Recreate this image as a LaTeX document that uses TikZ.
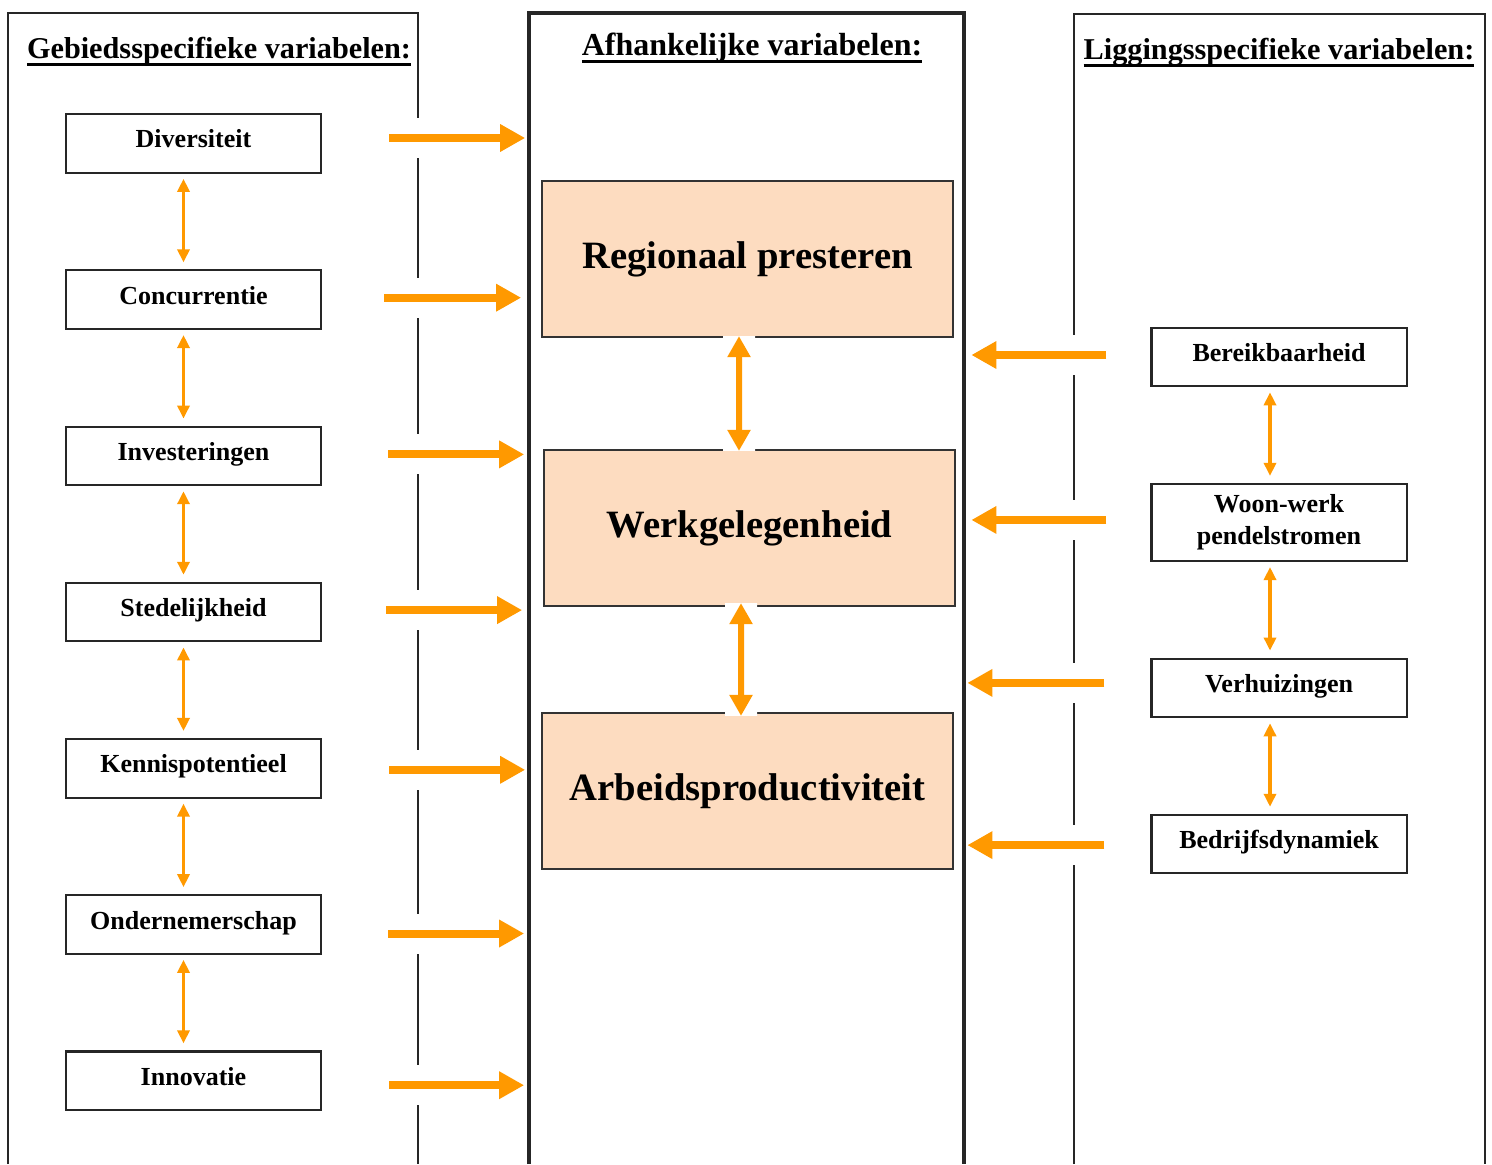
\documentclass[tikz,border=0pt]{standalone}
\usepackage{fontspec}
\setmainfont{Liberation Serif}
\usetikzlibrary{positioning,arrows.meta}
\definecolor{arroworange}{HTML}{FF9900}
\definecolor{peach}{HTML}{FDDCC0}
\newcommand\varheading[1]{\setbox0\hbox{#1}\rlap{\copy0}\rule[-1.9pt]{\wd0}{0.8pt}}

\begin{document}
\begin{tikzpicture}[
     x = 0.01cm, y = -0.01cm,
     node distance = 0.955cm,
     panel/.style = {draw = black!85, line width = 0.6pt},
     heading/.style = {font = \fontsize{8.6}{10}\selectfont\bfseries, anchor = base},
     var/.style = {draw = black!85, line width = 0.6pt, minimum width = 2.55cm,
                   minimum height = 0.585cm, inner sep = 1pt,
                   text height = 0.16cm, text depth = 0.07cm,
                   font = \fontsize{7.4}{9.1}\selectfont\bfseries},
     result/.style = {draw = black!80, line width = 0.6pt, fill = peach,
                      minimum width = 4.11cm, minimum height = 1.56cm,
                      font = \fontsize{11}{13}\selectfont\bfseries},
     link/.style = {arroworange, line width = 1.1pt,
                    {Triangle[width=0.12cm,length=0.13cm]}-{Triangle[width=0.12cm,length=0.13cm]},
                    shorten <= 0.05cm, shorten >= 0.07cm},
     feed/.style = {arroworange, line width = 0.08cm,
                    -{Triangle[width=0.26cm,length=0.25cm]},
                    preaction = {draw = white, line width = 0.4cm, -}},
     mutual/.style = {arroworange, line width = 0.06cm,
                      {Triangle[width=0.22cm,length=0.21cm]}-{Triangle[width=0.22cm,length=0.21cm]},
                      preaction = {draw = white, line width = 0.32cm, -}}
    ]

    \useasboundingbox (0,0) rectangle (1492,1164);

    % panels
    \draw[panel] (8,1164) -- (8,13) -- (418,13) -- (418,1164);
    \draw[panel, line width = 1pt] (529,1164) -- (529,13) -- (964,13) -- (964,1164);
    \draw[panel] (1074,1164) -- (1074,14) -- (1485,14) -- (1485,1164);

    \node[heading] (gebied) at (219,59) {\varheading{Gebiedsspecifieke variabelen:}};
    \node[heading, font = \fontsize{9.1}{10}\selectfont\bfseries] (afhankelijk) at (752,56) {\varheading{Afhankelijke variabelen:}};
    \node[heading] (ligging) at (1279,60) {\varheading{Liggingsspecifieke variabelen:}};

    \node[var] (Diversiteit) at (193.5,143.5) {Diversiteit};
    \node[var, below = of Diversiteit] (Concurrentie) {Concurrentie};
    \node[var, below = of Concurrentie] (Investeringen) {Investeringen};
    \node[var, below = of Investeringen] (Stedelijkheid) {Stedelijkheid};
    \node[var, below = of Stedelijkheid] (Kennis) {Kennispotentieel};
    \node[var, below = of Kennis] (Ondernemer) {Ondernemerschap};
    \node[var, below = of Ondernemer] (Innovatie) {Innovatie};

    \node[result] (Regionaal) at (747.5,259) {Regionaal presteren};
    \node[result] (Werk) at (749.5,528) {Werkgelegenheid};
    \node[result] (Arbeid) at (747.5,791) {Arbeidsproductiviteit};

    \node[var] (Bereik) at (1279,357) {Bereikbaarheid};
    \node[var, below = of Bereik, align = center, text height =, text depth =,
          minimum height = 0.77cm] (Woon) {Woon-werk\\pendelstromen};
    \node[var, below = of Woon] (Verhuizing) {Verhuizingen};
    \node[var, below = of Verhuizing] (Bedrijf) {Bedrijfsdynamiek};

    \draw[link] ([xshift=-0.1cm]Diversiteit.south) -- ([xshift=-0.1cm]Concurrentie.north);
    \draw[link] ([xshift=-0.1cm]Concurrentie.south) -- ([xshift=-0.1cm]Investeringen.north);
    \draw[link] ([xshift=-0.1cm]Investeringen.south) -- ([xshift=-0.1cm]Stedelijkheid.north);
    \draw[link] ([xshift=-0.1cm]Stedelijkheid.south) -- ([xshift=-0.1cm]Kennis.north);
    \draw[link] ([xshift=-0.1cm]Kennis.south) -- ([xshift=-0.1cm]Ondernemer.north);
    \draw[link] ([xshift=-0.1cm]Ondernemer.south) -- ([xshift=-0.1cm]Innovatie.north);

    \draw[link] ([xshift=-0.09cm]Bereik.south) -- ([xshift=-0.09cm]Woon.north);
    \draw[link] ([xshift=-0.09cm]Woon.south) -- ([xshift=-0.09cm]Verhuizing.north);
    \draw[link] ([xshift=-0.09cm]Verhuizing.south) -- ([xshift=-0.09cm]Bedrijf.north);

    \draw[feed] ([xshift=0.67cm,yshift=0.055cm]Diversiteit.east) -- ++(136,0);
    \draw[feed] ([xshift=0.62cm,yshift=0.02cm]Concurrentie.east) -- ++(137,0);
    \draw[feed] ([xshift=0.66cm,yshift=0.015cm]Investeringen.east) -- ++(136,0);
    \draw[feed] ([xshift=0.64cm,yshift=0.02cm]Stedelijkheid.east) -- ++(136,0);
    \draw[feed] ([xshift=0.67cm,yshift=-0.015cm]Kennis.east) -- ++(136,0);
    \draw[feed] ([xshift=0.66cm,yshift=-0.09cm]Ondernemer.east) -- ++(136,0);
    \draw[feed] ([xshift=0.67cm,yshift=-0.045cm]Innovatie.east) -- ++(135,0);

    \draw[feed] ([xshift=-0.44cm,yshift=0.02cm]Bereik.west) -- ++(-135,0);
    \draw[feed] ([xshift=-0.44cm,yshift=0.025cm]Woon.west) -- ++(-135,0);
    \draw[feed] ([xshift=-0.46cm,yshift=0.05cm]Verhuizing.west) -- ++(-137,0);
    \draw[feed] ([xshift=-0.46cm,yshift=-0.01cm]Bedrijf.west) -- ++(-137,0);

    \draw[mutual, shorten <= -0.02cm, shorten >= -0.02cm]
      ([xshift=-0.085cm]Regionaal.south) -- ([xshift=-0.105cm]Werk.north);
    \draw[mutual, shorten <= -0.04cm, shorten >= -0.04cm]
      ([xshift=-0.085cm]Werk.south) -- ([xshift=-0.065cm]Arbeid.north);

\end{tikzpicture}
\end{document}
